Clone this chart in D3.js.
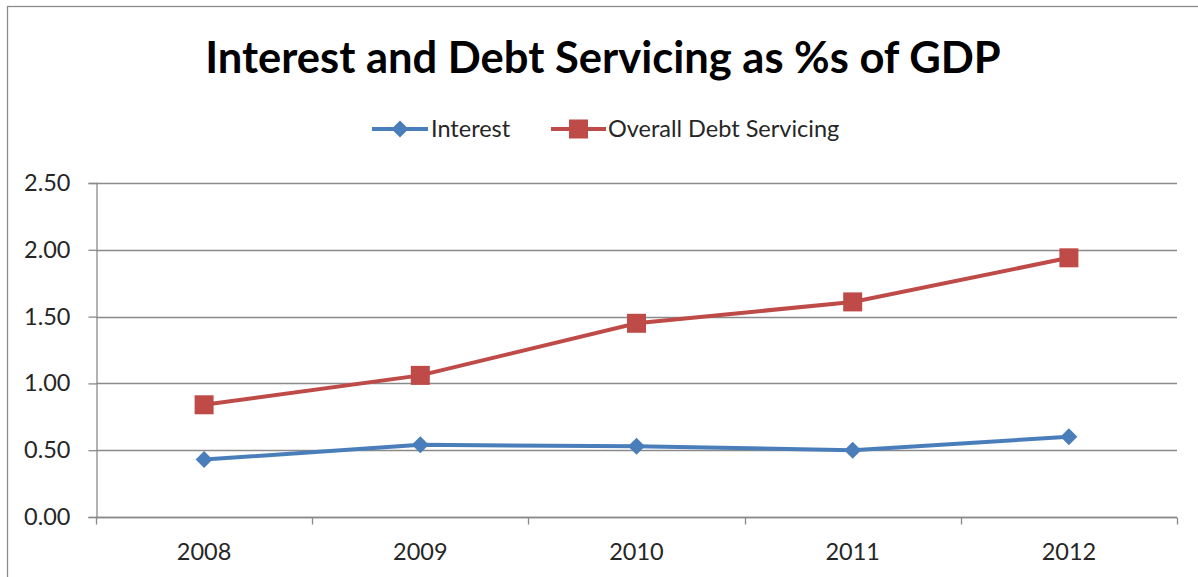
<!DOCTYPE html>
<html>
<head>
<meta charset="utf-8">
<script src="https://cdn.jsdelivr.net/npm/d3@7"></script>
<style>
  html, body { margin: 0; padding: 0; background: #fff; }
  svg { display: block; }
  text { font-family: Lato, "Open Sans", "Liberation Sans", sans-serif; }
</style>
</head>
<body>
<svg id="chart" width="1198" height="577"></svg>
<script>
// Chart data
const years = ["2008", "2009", "2010", "2011", "2012"];
const interest = [0.43, 0.54, 0.53, 0.50, 0.60];
const debtServicing = [0.84, 1.06, 1.45, 1.61, 1.94];
const yTicks = [0, 0.5, 1.0, 1.5, 2.0, 2.5];
const seriesNames = ["Interest", "Overall Debt Servicing"];
const seriesColors = ["#4A7EBB", "#BE4B48"];

const svg = d3.select("#chart");
const W = 1198, H = 577;
const plot = { left: 96, right: 1177, top: 183, bottom: 517 };
const labelSize = 23.5;

// Chart frame
svg.append("rect")
  .attr("x", 7.5).attr("y", 6.5)
  .attr("width", W + 10).attr("height", H + 10)
  .attr("fill", "#fff").attr("stroke", "#8c8c8c").attr("stroke-width", 1.3);

// Title
svg.append("text")
  .attr("x", 603).attr("y", 73)
  .attr("text-anchor", "middle")
  .attr("font-size", 43.5).attr("font-weight", "bold")
  .attr("fill", "#000")
  .text("Interest and Debt Servicing as %s of GDP");

const x = d3.scaleBand().domain(years).range([plot.left, plot.right]);
const y = d3.scaleLinear().domain([0, 2.5]).range([plot.bottom, plot.top]);

// Horizontal gridlines
svg.append("g")
  .selectAll("line")
  .data(yTicks)
  .join("line")
  .attr("x1", plot.left).attr("x2", plot.right)
  .attr("y1", d => Math.round(y(d)) + 0.5).attr("y2", d => Math.round(y(d)) + 0.5)
  .attr("stroke", "#8a8a8a").attr("stroke-width", 1.3);

// Y axis
const yAxis = svg.append("g")
  .attr("transform", `translate(${plot.left + 0.5},0)`)
  .call(d3.axisLeft(y).tickValues(yTicks).tickFormat(d3.format(".2f")).tickSize(8).tickPadding(18));
yAxis.select(".domain").attr("stroke", "#8a8a8a").attr("stroke-width", 1.3);
yAxis.selectAll(".tick line").attr("stroke", "#8a8a8a").attr("stroke-width", 1.3);
yAxis.selectAll(".tick text")
  .attr("font-size", labelSize).attr("fill", "#262626")
  .attr("font-family", "Lato, 'Open Sans', sans-serif");

// X axis with ticks at category boundaries
const xAxis = svg.append("g")
  .attr("transform", `translate(0,${Math.round(plot.bottom) + 0.5})`);
xAxis.append("line")
  .attr("x1", plot.left).attr("x2", plot.right)
  .attr("stroke", "#8a8a8a").attr("stroke-width", 1.3);
const boundaries = years.map(d => x(d)).concat([plot.right]);
xAxis.selectAll("line.tick")
  .data(boundaries)
  .join("line")
  .attr("class", "tick")
  .attr("x1", d => Math.round(d) + 0.5).attr("x2", d => Math.round(d) + 0.5)
  .attr("y1", 0).attr("y2", 7)
  .attr("stroke", "#8a8a8a").attr("stroke-width", 1.3);
xAxis.selectAll("text")
  .data(years)
  .join("text")
  .attr("x", d => x(d) + x.bandwidth() / 2)
  .attr("y", 42)
  .attr("text-anchor", "middle")
  .attr("font-size", labelSize).attr("fill", "#262626")
  .text(d => d);

const cx = d => x(d) + x.bandwidth() / 2;
const line = d3.line().x((v, i) => cx(years[i])).y(v => y(v));

// Interest series (diamond markers)
svg.append("path")
  .datum(interest)
  .attr("d", line)
  .attr("fill", "none").attr("stroke", seriesColors[0]).attr("stroke-width", 4);
svg.append("g")
  .selectAll("path")
  .data(interest)
  .join("path")
  .attr("transform", (v, i) => `translate(${cx(years[i])},${y(v)}) rotate(45)`)
  .attr("d", "M-6,-6H6V6H-6Z")
  .attr("fill", seriesColors[0]);

// Overall debt servicing series (square markers)
svg.append("path")
  .datum(debtServicing)
  .attr("d", line)
  .attr("fill", "none").attr("stroke", seriesColors[1]).attr("stroke-width", 4);
svg.append("g")
  .selectAll("rect")
  .data(debtServicing)
  .join("rect")
  .attr("x", (v, i) => cx(years[i]) - 9.5)
  .attr("y", v => y(v) - 9.5)
  .attr("width", 19).attr("height", 19)
  .attr("fill", seriesColors[1]);

// Legend
const legendY = 129;
const legendItems = [
  { x0: 372, x1: 428, tx: 431 },
  { x0: 551, x1: 606, tx: 608 }
];
legendItems.forEach((it, i) => {
  const g = svg.append("g");
  g.append("line")
    .attr("x1", it.x0).attr("x2", it.x1)
    .attr("y1", legendY).attr("y2", legendY)
    .attr("stroke", seriesColors[i]).attr("stroke-width", 4);
  const mx = (it.x0 + it.x1) / 2;
  if (i === 0) {
    g.append("path")
      .attr("transform", `translate(${mx},${legendY}) rotate(45)`)
      .attr("d", "M-6,-6H6V6H-6Z")
      .attr("fill", seriesColors[i]);
  } else {
    g.append("rect")
      .attr("x", mx - 9.5).attr("y", legendY - 9.5)
      .attr("width", 19).attr("height", 19)
      .attr("fill", seriesColors[i]);
  }
  g.append("text")
    .attr("x", it.tx).attr("y", legendY + 8)
    .attr("font-size", labelSize).attr("fill", "#262626")
    .text(seriesNames[i]);
});
</script>
</body>
</html>
